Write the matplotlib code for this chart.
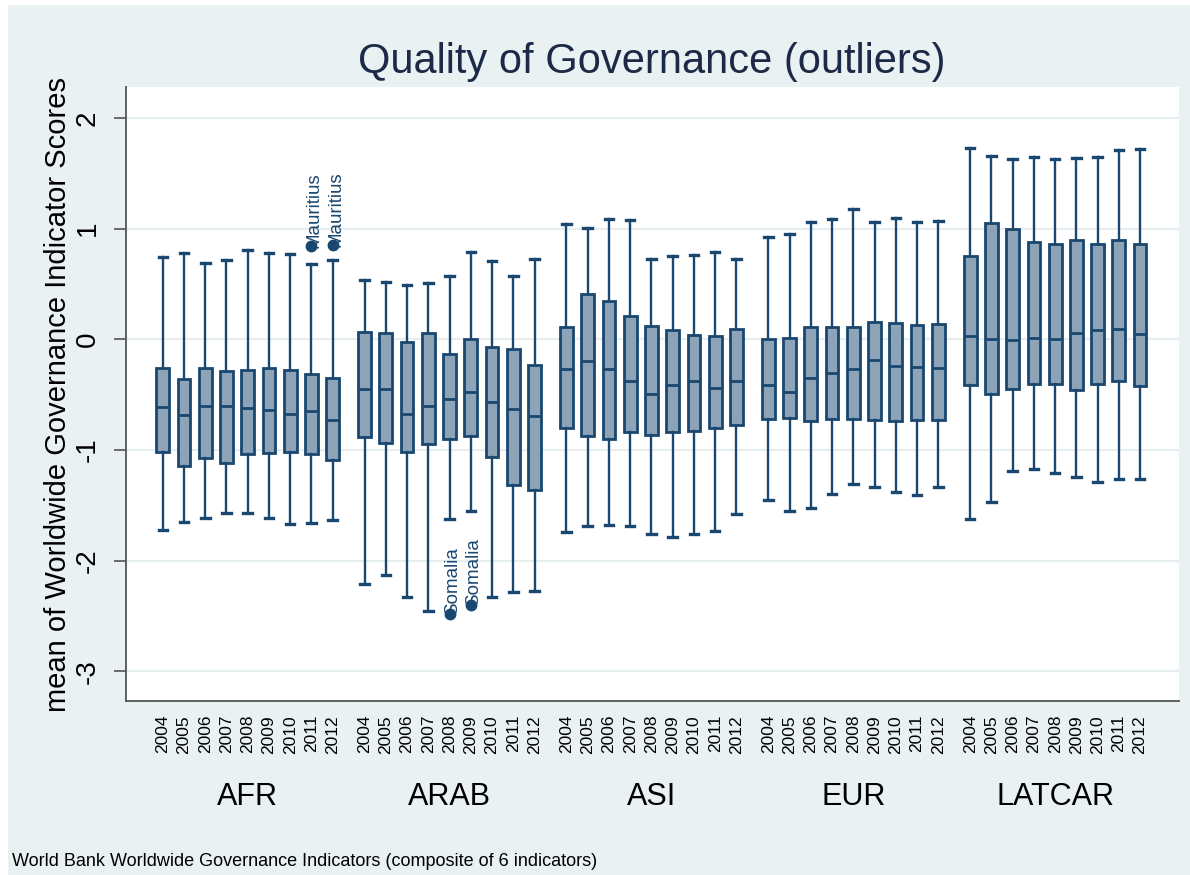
import matplotlib
matplotlib.use("Agg")
import matplotlib.pyplot as plt
from matplotlib.patches import Rectangle

plt.rcParams['font.family'] = ['Liberation Sans', 'DejaVu Sans']

regions = ['AFR', 'ARAB', 'ASI', 'EUR', 'LATCAR']
years = ['2004', '2005', '2006', '2007', '2008', '2009', '2010', '2011', '2012']

# box statistics per region, one value per year
whisk_hi = [
    [0.74, 0.78, 0.69, 0.72, 0.81, 0.78, 0.77, 0.68, 0.72],
    [0.54, 0.52, 0.49, 0.51, 0.57, 0.79, 0.71, 0.57, 0.73],
    [1.04, 1.01, 1.09, 1.08, 0.73, 0.75, 0.76, 0.79, 0.73],
    [0.92, 0.95, 1.06, 1.09, 1.18, 1.06, 1.10, 1.06, 1.07],
    [1.73, 1.66, 1.63, 1.65, 1.63, 1.64, 1.65, 1.71, 1.72],
]
q3 = [
    [-0.26, -0.36, -0.26, -0.29, -0.28, -0.26, -0.28, -0.31, -0.35],
    [0.07, 0.06, -0.02, 0.06, -0.13, 0.00, -0.07, -0.09, -0.23],
    [0.11, 0.41, 0.35, 0.21, 0.12, 0.08, 0.04, 0.03, 0.09],
    [0.00, 0.01, 0.11, 0.11, 0.11, 0.16, 0.15, 0.13, 0.14],
    [0.75, 1.05, 1.00, 0.88, 0.86, 0.90, 0.86, 0.90, 0.86],
]
median = [
    [-0.61, -0.68, -0.60, -0.60, -0.62, -0.64, -0.67, -0.65, -0.73],
    [-0.45, -0.45, -0.67, -0.60, -0.54, -0.48, -0.57, -0.63, -0.69],
    [-0.27, -0.20, -0.27, -0.38, -0.49, -0.41, -0.38, -0.44, -0.38],
    [-0.41, -0.48, -0.35, -0.30, -0.27, -0.19, -0.24, -0.25, -0.26],
    [0.03, 0.00, -0.01, 0.01, 0.00, 0.06, 0.08, 0.09, 0.05],
]
q1 = [
    [-1.02, -1.14, -1.07, -1.12, -1.04, -1.03, -1.02, -1.04, -1.09],
    [-0.88, -0.94, -1.02, -0.95, -0.90, -0.87, -1.06, -1.32, -1.36],
    [-0.80, -0.87, -0.90, -0.84, -0.86, -0.84, -0.83, -0.80, -0.77],
    [-0.72, -0.71, -0.74, -0.72, -0.72, -0.73, -0.74, -0.73, -0.73],
    [-0.41, -0.49, -0.45, -0.40, -0.40, -0.46, -0.40, -0.38, -0.42],
]
whisk_lo = [
    [-1.72, -1.65, -1.61, -1.57, -1.57, -1.61, -1.67, -1.66, -1.63],
    [-2.21, -2.13, -2.33, -2.45, -1.62, -1.55, -2.33, -2.28, -2.27],
    [-1.74, -1.69, -1.68, -1.69, -1.76, -1.79, -1.76, -1.73, -1.58],
    [-1.45, -1.55, -1.52, -1.40, -1.31, -1.33, -1.38, -1.41, -1.33],
    [-1.62, -1.47, -1.19, -1.17, -1.21, -1.24, -1.29, -1.26, -1.26],
]

# outlying countries
out_region = ['AFR', 'AFR', 'ARAB', 'ARAB']
out_year = ['2011', '2012', '2008', '2009']
out_value = [0.84, 0.85, -2.48, -2.40]
out_label = ['Mauritius', 'Mauritius', 'Somalia', 'Somalia']

navy = '#1a476f'
fill = '#8da3b7'
bg = '#eaf1f3'

fig = plt.figure(figsize=(11.9, 8.75), dpi=100, facecolor='white')
fig.patches.append(Rectangle((8 / 1190, 0), 1, 1 - 5 / 875, transform=fig.transFigure,
                             facecolor=bg, edgecolor='none', zorder=-10))
ax = fig.add_axes([126 / 1190, 1 - 701 / 875, (1179 - 126) / 1190, (701 - 86.7) / 875])
ax.set_facecolor('white')

group_step = len(years) + 0.5
stats, positions = [], []
for g, reg in enumerate(regions):
    for j, yr in enumerate(years):
        stats.append(dict(med=median[g][j], q1=q1[g][j], q3=q3[g][j],
                          whislo=whisk_lo[g][j], whishi=whisk_hi[g][j], fliers=[]))
        positions.append(g * group_step + j)

ax.bxp(stats, positions=positions, widths=0.6, capwidths=0.4, patch_artist=True,
       showfliers=False, manage_ticks=False,
       boxprops=dict(facecolor=fill, edgecolor=navy, linewidth=2.0),
       medianprops=dict(color=navy, linewidth=2.0),
       whiskerprops=dict(color=navy, linewidth=1.7),
       capprops=dict(color=navy, linewidth=2.4))

for reg, yr, val, lab in zip(out_region, out_year, out_value, out_label):
    xp = regions.index(reg) * group_step + years.index(yr)
    ax.plot(xp, val, 'o', color=navy, markersize=7.5, zorder=4)
    ax.annotate(lab, (xp, val), xytext=(2, -1), textcoords='offset points',
                rotation=90, ha='center', va='bottom', fontsize=13.5, color=navy)

ax.set_xlim(-1.73, 47.83)
ax.set_ylim(-3.267, 2.282)
ax.set_yticks([-3, -2, -1, 0, 1, 2])
ax.set_yticklabels(['-3', '-2', '-1', '0', '1', '2'])
ax.tick_params(axis='y', labelrotation=90, labelsize=20, length=9, width=1.2,
               color='#555555', pad=9)
for t in ax.get_yticklabels():
    t.set_va('center')
ax.set_xticks(positions)
ax.set_xticklabels(years * len(regions), rotation=90)
ax.tick_params(axis='x', length=0, labelsize=12.5, pad=10)
ax.yaxis.grid(True, color='#e6eef1', linewidth=1.6)
ax.set_axisbelow(True)
for s in ['top', 'right']:
    ax.spines[s].set_visible(False)
for s in ['left', 'bottom']:
    ax.spines[s].set_color('#555555')
    ax.spines[s].set_linewidth(1.3)

for g, reg in enumerate(regions):
    ax.text(g * group_step + (len(years) - 1) / 2, -0.156, reg, transform=ax.get_xaxis_transform(),
            ha='center', va='center', fontsize=22)

fig.text(652 / 1190, 1 - 62 / 875, 'Quality of Governance (outliers)', ha='center', va='center',
         fontsize=30, color='#1c2a48')
fig.text(58 / 1190, 1 - 394 / 875, 'mean of Worldwide Governance Indicator Scores', rotation=90,
         ha='center', va='center', fontsize=21)
fig.text(12 / 1190, 1 - 862 / 875, 'World Bank Worldwide Governance Indicators (composite of 6 indicators)',
         ha='left', va='center', fontsize=13)

fig.savefig('out.png', dpi=100, facecolor=fig.get_facecolor())
